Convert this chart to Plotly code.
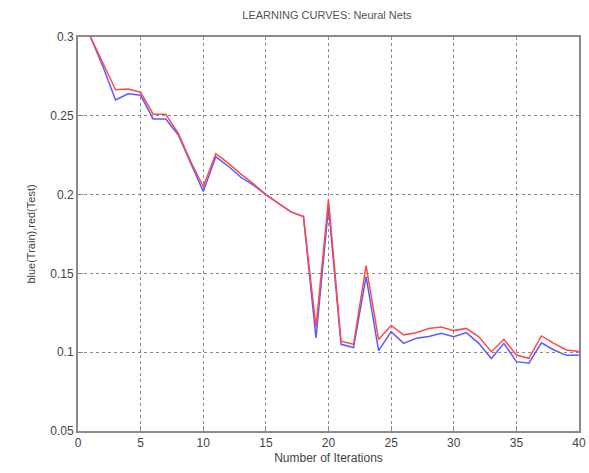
import plotly.graph_objects as go

iterations = list(range(1, 41))
train_err = [0.300, 0.281, 0.260, 0.264, 0.263, 0.248, 0.248, 0.238, 0.220, 0.202,
             0.224, 0.218, 0.211, 0.206, 0.200, 0.1945, 0.189, 0.186, 0.109, 0.192,
             0.105, 0.103, 0.148, 0.101, 0.113, 0.1056, 0.1088, 0.110, 0.112, 0.1098,
             0.1124, 0.1056, 0.096, 0.1056, 0.094, 0.093, 0.106, 0.1014, 0.098, 0.098]
test_err = [0.300, 0.283, 0.2665, 0.267, 0.265, 0.251, 0.251, 0.239, 0.221, 0.205,
            0.226, 0.220, 0.213, 0.207, 0.200, 0.1945, 0.189, 0.186, 0.116, 0.197,
            0.107, 0.105, 0.155, 0.108, 0.117, 0.111, 0.1124, 0.115, 0.116, 0.1137,
            0.1151, 0.1098, 0.1003, 0.1082, 0.0982, 0.0961, 0.1103, 0.1056, 0.1014, 0.1005]
x_ticks = [0, 5, 10, 15, 20, 25, 30, 35, 40]
y_ticks = [0.05, 0.1, 0.15, 0.2, 0.25, 0.3]
y_tick_text = ["0.05", "0.1", "0.15", "0.2", "0.25", "0.3"]

fig = go.Figure()
fig.add_trace(go.Scatter(x=iterations, y=train_err, mode="lines",
                         line=dict(color="#5a5aff", width=1.5), name="Train"))
fig.add_trace(go.Scatter(x=iterations, y=test_err, mode="lines",
                         line=dict(color="#ff4a4a", width=1.5), name="Test"))

axis_common = dict(
    showline=True, linecolor="#8a8a8a", linewidth=2, mirror=True,
    showgrid=True, gridcolor="#8a8a8a", griddash="dot", gridwidth=1,
    ticks="inside", ticklen=5, tickcolor="#8a8a8a",
    zeroline=False, tickfont=dict(size=12, color="#444"),
    automargin=False,
)

fig.update_layout(
    width=589, height=473,
    margin=dict(l=78, r=10, t=37, b=42),
    paper_bgcolor="white", plot_bgcolor="white",
    showlegend=False,
    font=dict(family="Liberation Sans, Arial, sans-serif", color="#444"),
    title=dict(text="LEARNING CURVES: Neural Nets", x=0.555, xanchor="center",
               y=0.968, yanchor="middle", font=dict(size=11, color="#555"),
               automargin=False),
    xaxis=dict(range=[0, 40], tickvals=x_ticks,
               title=dict(text="Number of Iterations", font=dict(size=12, color="#444"), standoff=4),
               **axis_common),
    yaxis=dict(range=[0.05, 0.3], tickvals=y_ticks, ticktext=y_tick_text,
               title=dict(text="blue(Train),red(Test)", font=dict(size=11, color="#444"), standoff=12),
               **axis_common),
)

fig.write_html("out.html")
